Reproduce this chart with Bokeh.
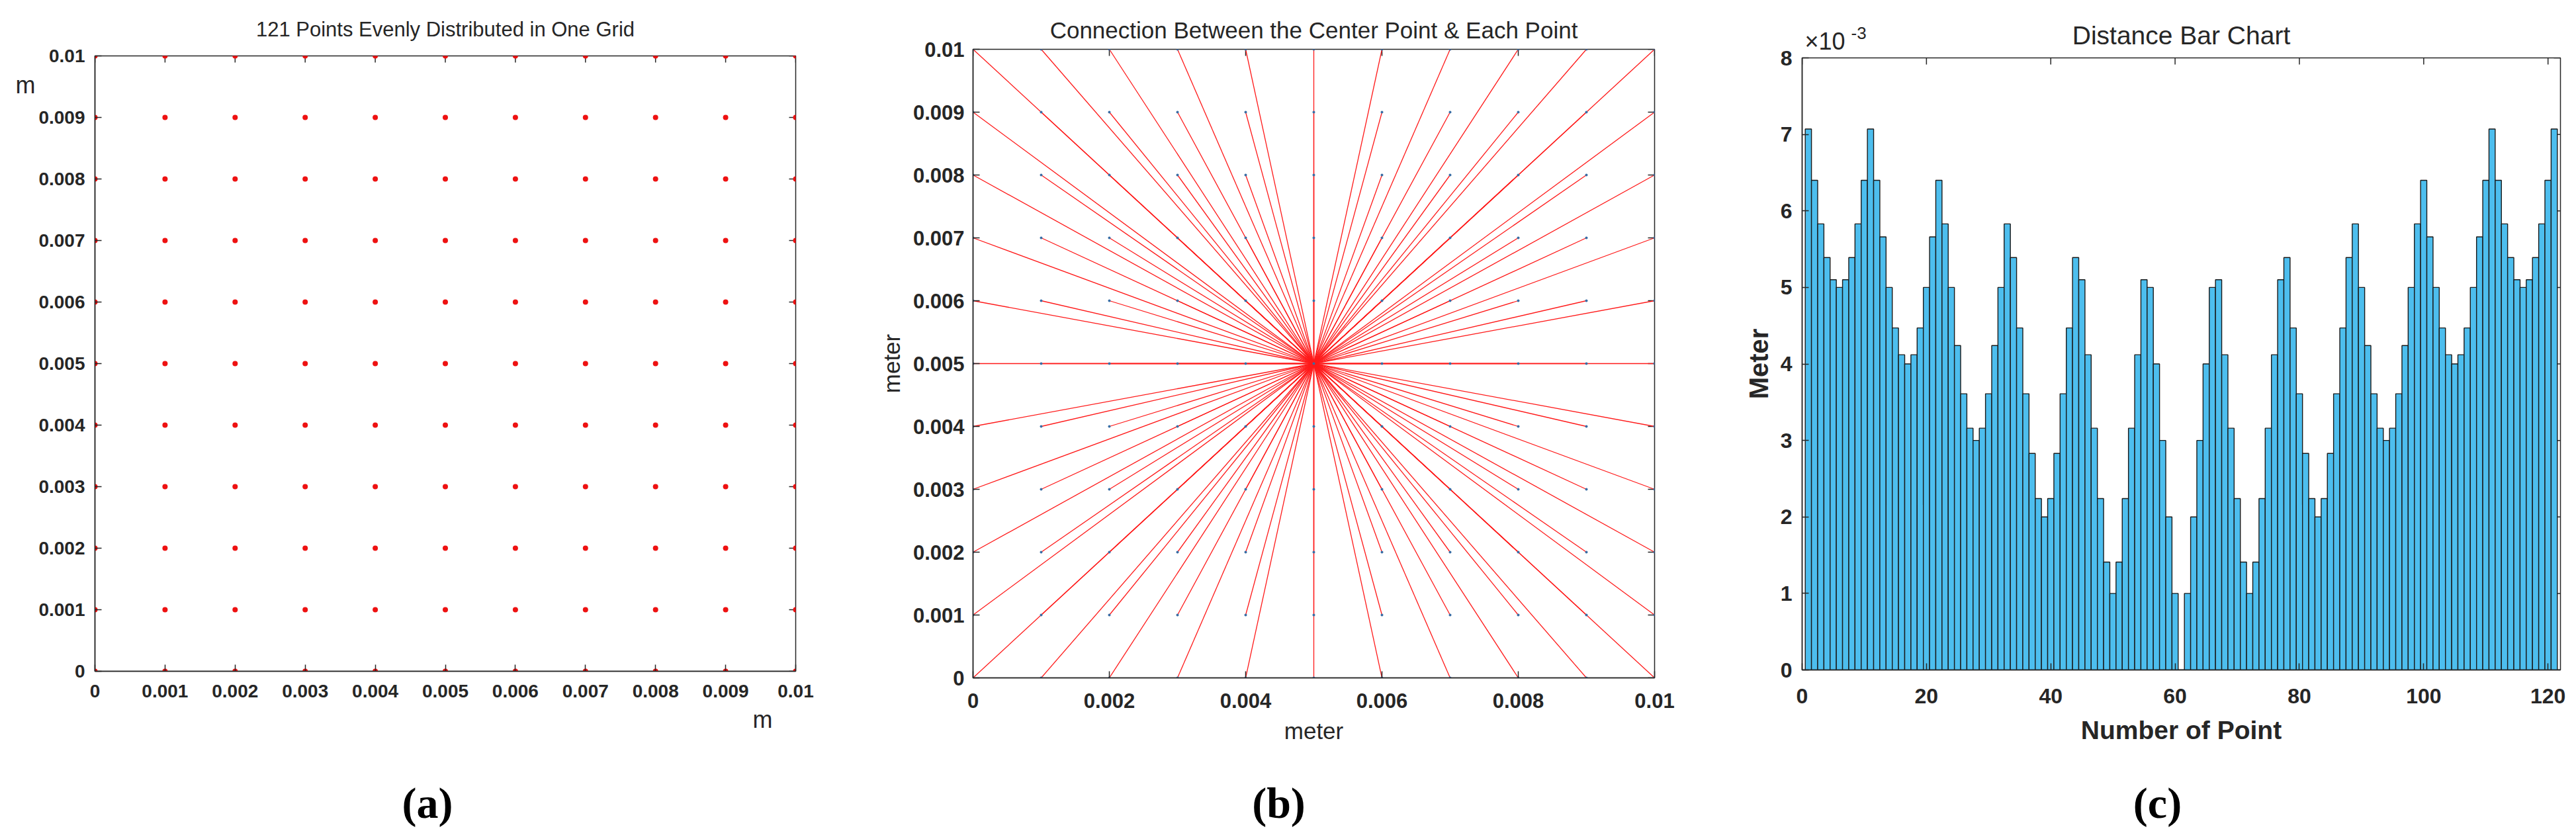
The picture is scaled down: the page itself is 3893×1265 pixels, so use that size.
import math
from bokeh.plotting import figure
from bokeh.layouts import row
from bokeh.models import Range1d, FixedTicker, Label, ColumnDataSource
from bokeh.embed import file_html
from bokeh.resources import INLINE

# ---------------- data ----------------
grid_x = [0, 0.001, 0.002, 0.003, 0.004, 0.005, 0.006, 0.007, 0.008, 0.009, 0.01]
grid_y = [0, 0.001, 0.002, 0.003, 0.004, 0.005, 0.006, 0.007, 0.008, 0.009, 0.01]
center_x = 0.005
center_y = 0.005

ticks_a = [0, 0.001, 0.002, 0.003, 0.004, 0.005, 0.006, 0.007, 0.008, 0.009, 0.01]
labels_a = ["0", "0.001", "0.002", "0.003", "0.004", "0.005", "0.006", "0.007", "0.008", "0.009", "0.01"]
ticks_b_x = [0, 0.002, 0.004, 0.006, 0.008, 0.01]
labels_b_x = ["0", "0.002", "0.004", "0.006", "0.008", "0.01"]
ticks_c_x = [0, 20, 40, 60, 80, 100, 120]
labels_c_x = ["0", "20", "40", "60", "80", "100", "120"]
ticks_c_y = [0, 1, 2, 3, 4, 5, 6, 7, 8]
labels_c_y = ["0", "1", "2", "3", "4", "5", "6", "7", "8"]

# distance of each point to the centre point, in units of 1e-3 m
distance_e3 = [
    7.07, 6.40, 5.83, 5.39, 5.10, 5.00, 5.10, 5.39, 5.83, 6.40, 7.07,
    6.40, 5.66, 5.00, 4.47, 4.12, 4.00, 4.12, 4.47, 5.00, 5.66, 6.40,
    5.83, 5.00, 4.24, 3.61, 3.16, 3.00, 3.16, 3.61, 4.24, 5.00, 5.83,
    5.39, 4.47, 3.61, 2.83, 2.24, 2.00, 2.24, 2.83, 3.61, 4.47, 5.39,
    5.10, 4.12, 3.16, 2.24, 1.41, 1.00, 1.41, 2.24, 3.16, 4.12, 5.10,
    5.00, 4.00, 3.00, 2.00, 1.00, 0.00, 1.00, 2.00, 3.00, 4.00, 5.00,
    5.10, 4.12, 3.16, 2.24, 1.41, 1.00, 1.41, 2.24, 3.16, 4.12, 5.10,
    5.39, 4.47, 3.61, 2.83, 2.24, 2.00, 2.24, 2.83, 3.61, 4.47, 5.39,
    5.83, 5.00, 4.24, 3.61, 3.16, 3.00, 3.16, 3.61, 4.24, 5.00, 5.83,
    6.40, 5.66, 5.00, 4.47, 4.12, 4.00, 4.12, 4.47, 5.00, 5.66, 6.40,
    7.07, 6.40, 5.83, 5.39, 5.10, 5.00, 5.10, 5.39, 5.83, 6.40, 7.07,
]
point_no = list(range(1, len(distance_e3) + 1))

# ---------------- style ----------------
TXT = "#262626"
SANS = "Liberation Sans"
SERIF = "Liberation Serif"
FIG_H = 1257

pts_x = [gx for gx in grid_x for gy in grid_y]
pts_y = [gy for gx in grid_x for gy in grid_y]
pts = ColumnDataSource(dict(x=pts_x, y=pts_y))


def make_fig(width, xr, yr, b_left, b_right, b_top, b_bottom):
    p = figure(width=width, height=FIG_H, x_range=xr, y_range=yr,
               output_backend="svg", toolbar_location=None,
               min_border_left=b_left, min_border_right=b_right,
               min_border_top=b_top, min_border_bottom=b_bottom)
    if "frame_align" in p.properties():
        p.frame_align = False
    p.xgrid.visible = False
    p.ygrid.visible = False
    p.outline_line_color = TXT
    p.outline_line_width = 1.5
    p.outline_line_alpha = 1.0
    p.background_fill_color = "white"
    p.border_fill_color = "white"
    return p


def style_axes(p, xt, xl, yt, yl, font_size, xstand, ystand):
    xa, ya = p.below[0], p.left[0]
    for ax, t, l, st in ((xa, xt, xl, xstand), (ya, yt, yl, ystand)):
        ax.ticker = FixedTicker(ticks=t)
        ax.major_label_overrides = {tv: lv for tv, lv in zip(t, l)}
        ax.major_label_text_font = SANS
        ax.major_label_text_font_style = "bold"
        ax.major_label_text_font_size = font_size
        ax.major_label_text_color = TXT
        ax.major_label_standoff = st
        ax.axis_line_color = TXT
        ax.axis_line_width = 1.5
        ax.major_tick_in = 10
        ax.major_tick_out = 0
        ax.major_tick_line_color = TXT
        ax.major_tick_line_width = 1.5
        ax.minor_tick_line_color = None
    # inward ticks on the top and right edges of the box (MATLAB "box on")
    x_end = p.x_range.end
    y_end = p.y_range.end
    p.ray(x=xt, y=[y_end] * len(xt), length=10, length_units="screen",
          angle=-math.pi / 2, line_color=TXT, line_width=1.5)
    p.ray(x=[x_end] * len(yt), y=yt, length=10, length_units="screen",
          angle=math.pi, line_color=TXT, line_width=1.5)
    return xa, ya


def side_label(p, side, **kw):
    lab = Label(text_baseline="middle", **kw)
    p.add_layout(lab, side)
    return lab


def title_label(p, x, y, text, size, dy):
    side_label(p, "above", x=x, y=y, y_offset=dy, text=text, text_align="center",
               text_font=SANS, text_font_style="normal", text_font_size=size,
               text_color=TXT)


def caption(p, x, y, text, dx, dy):
    side_label(p, "below", x=x, y=y, x_offset=dx, y_offset=dy, text=text,
               text_align="center", text_font=SERIF, text_font_style="bold",
               text_font_size="66px", text_color="black")


# ---------------- (a) ----------------
pa = make_fig(1300, Range1d(0, 0.01), Range1d(0, 0.01), 143, 98, 84, 243)
style_axes(pa, ticks_a, labels_a, ticks_a, labels_a, "28px", 20, 15)
title_label(pa, 0.005, 0.01, "121 Points Evenly Distributed in One Grid", "31px", 40)
pa.scatter("x", "y", source=pts, size=8, color="#ee1111", line_color=None)
side_label(pa, "left", x=0, y=0.01, x_offset=-105, y_offset=-44, text="m",
           text_align="center", text_font=SANS, text_font_size="36px", text_color=TXT)
side_label(pa, "right", x=0.01, y=0, x_offset=-50, y_offset=-73, text="m",
           text_align="center", text_font=SANS, text_font_size="36px", text_color=TXT)
caption(pa, 0.005, 0, "(a)", -27, -199)

# ---------------- (b) ----------------
pb = make_fig(1300, Range1d(0, 0.01), Range1d(0, 0.01), 170, 100, 74, 233)
xb, yb = style_axes(pb, ticks_b_x, labels_b_x, ticks_a, labels_a, "31px", 23, 13)
title_label(pb, 0.005, 0.01, "Connection Between the Center Point & Each Point", "35px", 29)
pb.segment(x0=center_x, y0=center_y, x1="x", y1="y", source=pts,
           line_color="#ff1a1a", line_width=1.3)
pb.scatter("x", "y", source=pts, size=4, color="#3a6ea5", line_color=None)
for ax, st in ((xb, 12), (yb, 10)):
    ax.axis_label = "meter"
    ax.axis_label_text_font = SANS
    ax.axis_label_text_font_style = "normal"
    ax.axis_label_text_font_size = "35px"
    ax.axis_label_text_color = TXT
    ax.axis_label_standoff = st
caption(pb, 0.005, 0, "(b)", -53, -189)

# ---------------- (c) ----------------
pc = make_fig(1285, Range1d(0, 122), Range1d(0, 8), 123, 16, 87, 245)
xc, yc = style_axes(pc, ticks_c_x, labels_c_x, ticks_c_y, labels_c_y, "32px", 28, 15)
title_label(pc, 61, 8, "Distance Bar Chart", "39px", 34)
pc.vbar(x=point_no, top=distance_e3, width=1, bottom=0,
        fill_color="#4DBEEE", line_color="#1a1a1a", line_width=1.4)
yc.axis_label = "Meter"
yc.axis_label_text_font = SANS
yc.axis_label_text_font_style = "bold"
yc.axis_label_text_font_size = "40px"
yc.axis_label_text_color = TXT
yc.axis_label_standoff = 8
side_label(pc, "below", x=61, y=0, y_offset=-91, text="Number of Point",
           text_align="center", text_font=SANS, text_font_style="bold",
           text_font_size="39px", text_color=TXT)
side_label(pc, "below", x=0, y=8, x_offset=4, y_offset=25, text="\u00d710",
           text_align="left", text_font=SANS, text_font_size="36px", text_color=TXT)
side_label(pc, "left", x=0, y=8, x_offset=74, y_offset=38, text="-3",
           text_align="left", text_font=SANS, text_font_size="26px", text_color=TXT)
caption(pc, 61, 0, "(c)", -36, -201)

layout = row(pa, pb, pc, spacing=0)
open("out.html", "w").write(file_html(layout, INLINE))
